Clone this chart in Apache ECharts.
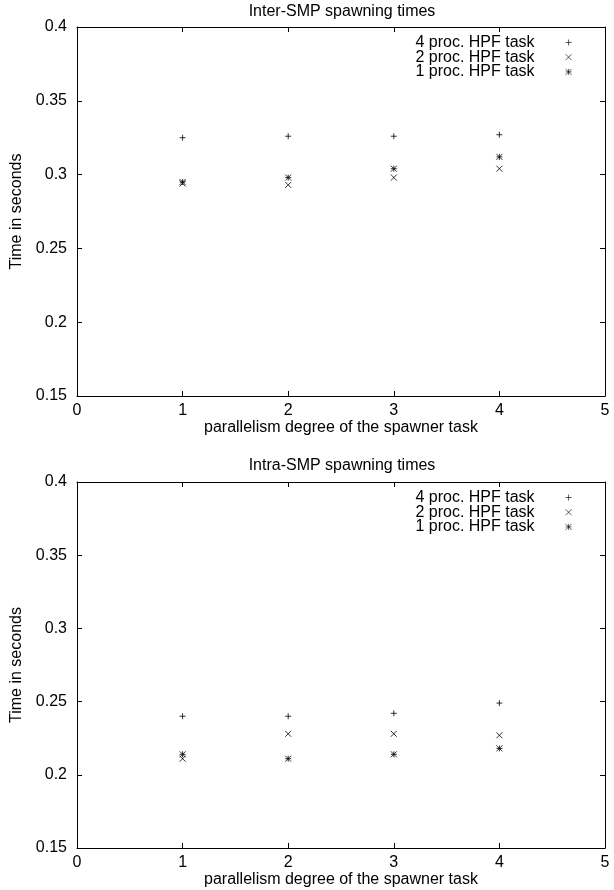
<!DOCTYPE html>
<html>
<head>
<meta charset="utf-8">
<script src="https://cdn.jsdelivr.net/npm/echarts@6/dist/echarts.min.js"></script>
<style>
  html, body { margin: 0; padding: 0; background: #fff; }
  #main { width: 614px; height: 890px; }
</style>
</head>
<body>
<div id="main"></div>
<script>
var parallelism = [1, 2, 3, 4];
var seriesNames = ['4 proc. HPF task', '2 proc. HPF task', '1 proc. HPF task'];

// Inter-SMP (top chart)
var interFour = [0.325, 0.326, 0.326, 0.327];
var interTwo  = [0.294, 0.293, 0.298, 0.304];
var interOne  = [0.295, 0.298, 0.304, 0.312];

// Intra-SMP (bottom chart)
var intraFour = [0.240, 0.240, 0.242, 0.249];
var intraTwo  = [0.211, 0.228, 0.228, 0.227];
var intraOne  = [0.214, 0.211, 0.214, 0.218];

var xTicks = { min: 0, max: 5, interval: 1 };
var yTicks = { min: 0.15, max: 0.4, interval: 0.05 };

var FONT = "'Liberation Sans', Arial, sans-serif";
var FS = 16;
var symbols = [
    'path://M0,5L10,5M5,0L5,10',                          // plus
    'path://M0,0L10,10M0,10L10,0',                        // cross
    'path://M0,5L10,5M5,0L5,10M0,0L10,10M0,10L10,0'       // star
];

var pairs = function (ys) {
    var res = [];
    for (var i = 0; i < parallelism.length; i++) {
        res.push([parallelism[i], ys[i]]);
    }
    return res;
};

var makeX = function (gridIndex, pos, showLabel) {
    return {
        type: 'value', gridIndex: gridIndex, position: pos,
        min: xTicks.min, max: xTicks.max, interval: xTicks.interval,
        name: showLabel ? 'parallelism degree of the spawner task' : '',
        nameLocation: 'middle', nameGap: 19,
        nameTextStyle: { color: '#000', fontSize: FS, fontFamily: FONT },
        axisLine: { show: true, onZero: false, lineStyle: { color: '#000', width: 1 } },
        axisTick: { show: true, inside: true, length: 5, lineStyle: { color: '#000' } },
        axisLabel: { show: showLabel, color: '#000', fontSize: FS, fontFamily: FONT, margin: 7 },
        splitLine: { show: false }
    };
};

var makeY = function (gridIndex, pos, showLabel) {
    return {
        type: 'value', gridIndex: gridIndex, position: pos,
        min: yTicks.min, max: yTicks.max, interval: yTicks.interval,
        name: showLabel ? 'Time in seconds' : '',
        nameLocation: 'middle', nameGap: 47, nameRotate: 90,
        nameTextStyle: { color: '#000', fontSize: FS, fontFamily: FONT },
        axisLine: { show: true, onZero: false, lineStyle: { color: '#000', width: 1 } },
        axisTick: { show: true, inside: true, length: 5, lineStyle: { color: '#000' } },
        axisLabel: {
            show: showLabel, color: '#000', fontSize: FS, fontFamily: FONT, margin: 10,
            formatter: function (v) { return +v.toFixed(2) + ''; }
        },
        splitLine: { show: false }
    };
};

var makeSeries = function (idx, gridIdx, ys) {
    return {
        name: seriesNames[idx],
        type: 'scatter',
        xAxisIndex: gridIdx * 2,
        yAxisIndex: gridIdx * 2,
        symbol: symbols[idx],
        symbolSize: 6,
        itemStyle: { color: '#000', borderColor: '#000', borderWidth: 1 },
        emphasis: { disabled: true },
        data: pairs(ys)
    };
};

var makeLegend = function (top) {
    return {
        orient: 'vertical', align: 'right',
        right: 37, top: top,
        itemWidth: 6, itemHeight: 6, itemGap: -1.3,
        selectedMode: false,
        data: seriesNames,
        itemStyle: { borderWidth: 0.8 },
        textStyle: { color: '#000', fontSize: FS, fontFamily: FONT, lineHeight: 14.7, padding: [0, 26, 0, 0] }
    };
};

var option = {
    backgroundColor: '#fff',
    animation: false,
    title: [
        { text: 'Inter-SMP spawning times', left: 342, top: 4, textAlign: 'center', padding: 0,
          textStyle: { color: '#000', fontWeight: 'normal', fontSize: FS, fontFamily: FONT } },
        { text: 'Intra-SMP spawning times', left: 342, top: 458, textAlign: 'center', padding: 0,
          textStyle: { color: '#000', fontWeight: 'normal', fontSize: FS, fontFamily: FONT } }
    ],
    legend: [makeLegend(29.5), makeLegend(484.5)],
    grid: [
        { left: 77, right: 9, top: 27, height: 369 },
        { left: 77, right: 9, top: 482, height: 366 }
    ],
    xAxis: [makeX(0, 'bottom', true), makeX(0, 'top', false), makeX(1, 'bottom', true), makeX(1, 'top', false)],
    yAxis: [makeY(0, 'left', true), makeY(0, 'right', false), makeY(1, 'left', true), makeY(1, 'right', false)],
    series: [
        makeSeries(0, 0, interFour),
        makeSeries(1, 0, interTwo),
        makeSeries(2, 0, interOne),
        makeSeries(0, 1, intraFour),
        makeSeries(1, 1, intraTwo),
        makeSeries(2, 1, intraOne)
    ]
};

var myChart = echarts.init(document.getElementById('main'));
myChart.setOption(option);
</script>
</body>
</html>
